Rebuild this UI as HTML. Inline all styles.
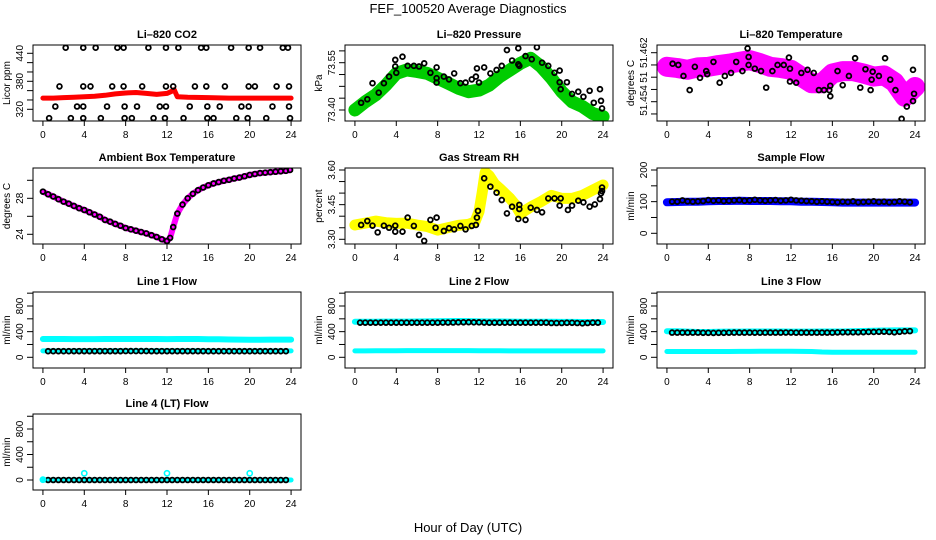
<!DOCTYPE html>
<html><head><meta charset="utf-8">
<style>
html,body{margin:0;padding:0;background:#fff;}
svg{display:block;font-family:"Liberation Sans",Arial,sans-serif;}
</style></head>
<body>
<svg id="chart" width="936" height="540" viewBox="0 0 936 540" xmlns="http://www.w3.org/2000/svg">
<text x="468" y="13" text-anchor="middle" font-size="13">FEF_100520  Average Diagnostics</text>
<text x="468" y="532" text-anchor="middle" font-size="13">Hour of Day (UTC)</text>
</svg>
<script>
// ---------- data ----------
const xTicks = [0,4,8,12,16,20,24];
const halfHours = [0.5,1,1.5,2,2.5,3,3.5,4,4.5,5,5.5,6,6.5,7,7.5,8,8.5,9,9.5,10,10.5,11,11.5,12,12.5,13,13.5,14,14.5,15,15.5,16,16.5,17,17.5,18,18.5,19,19.5,20,20.5,21,21.5,22,22.5,23,23.5];
const hourly = [0,1,2,3,4,5,6,7,8,9,10,11,12,13,14,15,16,17,18,19,20,21,22,23,24];

// CO2
const co2BandHours = [0,1,2,3,4,5,6,7,8,9,10,11,12,12.4,12.7,13,14,16,18,20,22,24];
const co2BandVals = [344,344,345,346,347,348,350,353,355,356,354,352,354,358,362,347,346,345,344,344,344,344];
const co2PtHours = [2.2,3.9,5.1,7.2,7.8,10.2,11.9,13.1,15.3,15.8,18.2,19.9,21.0,23.2,23.7,
 1.6,3.9,4.6,6.7,7.8,9.6,11.9,12.6,14.7,15.8,17.6,19.9,20.5,22.6,23.8,
 1.2,3.3,3.9,6.2,7.9,9.1,11.3,11.9,14.2,15.9,17.1,19.2,19.9,22.2,23.8,
 0.6,2.7,3.9,5.6,7.9,8.6,10.7,11.8,13.6,15.9,16.5,18.7,19.8,21.6,23.9];
const co2PtVals = [452,452,452,452,452,452,452,452,452,452,452,452,452,452,452,
 369,369,369,369,369,369,369,369,369,369,369,369,369,369,369,
 326,326,326,326,326,326,326,326,326,326,326,326,326,326,326,
 301,301,301,301,301,301,301,301,301,301,301,301,301,301,301];

// Pressure
const presBand = [73.400,73.426,73.448,73.479,73.516,73.527,73.522,73.516,73.501,73.485,73.469,73.458,73.463,73.479,73.506,73.527,73.548,73.564,73.538,73.501,73.458,73.426,73.411,73.389,73.379];
const presPtHours = [0.6,1.2,1.7,2.3,2.8,3.3,3.9,3.9,4.0,4.6,5.1,5.7,6.2,6.7,7.3,7.9,7.9,7.9,8.6,9.1,9.6,10.2,10.7,11.3,11.7,11.8,12.0,12.5,13.1,13.7,14.2,14.7,15.2,15.8,15.8,15.9,16.5,17.1,17.6,18.1,18.7,19.3,19.8,19.8,19.9,20.5,21.0,21.6,22.1,22.7,23.1,23.7,23.8,23.9];
const presPtVals = [73.423,73.434,73.485,73.455,73.485,73.506,73.559,73.538,73.518,73.569,73.540,73.540,73.538,73.548,73.518,73.535,73.501,73.487,73.506,73.497,73.516,73.485,73.487,73.497,73.506,73.532,73.487,73.535,73.516,73.527,73.540,73.590,73.557,73.596,73.545,73.540,73.571,73.561,73.599,73.550,73.540,73.518,73.525,73.488,73.466,73.488,73.451,73.458,73.442,73.461,73.423,73.466,73.429,73.405];

// Li-820 temperature
const tempBand = [51.4597,51.4595,51.4592,51.4596,51.4597,51.4600,51.4602,51.4605,51.4608,51.4603,51.4597,51.4595,51.4592,51.4581,51.4570,51.4570,51.4586,51.4590,51.4590,51.4586,51.4581,51.4583,51.4572,51.4548,51.4564];
const tempPtHours = [0.55,1.1,1.6,2.2,2.7,3.2,3.8,3.9,4.5,5.1,5.6,6.2,6.7,7.3,7.8,7.9,7.9,8.5,9.1,9.6,10.2,10.7,11.3,11.8,11.9,11.9,12.5,13.0,13.6,14.2,14.7,15.2,15.7,15.8,15.8,16.5,17.0,17.6,18.2,18.7,19.2,19.7,19.8,19.9,20.5,21.1,21.6,22.1,22.7,23.2,23.8,23.8,23.9];
const tempPtVals = [51.4602,51.4600,51.4582,51.4559,51.4597,51.4579,51.4590,51.4585,51.4605,51.4571,51.4582,51.4587,51.4605,51.4590,51.4627,51.4613,51.4600,51.4594,51.4590,51.4563,51.4590,51.4600,51.4600,51.4612,51.4594,51.4573,51.4571,51.4587,51.4592,51.4587,51.4559,51.4559,51.4559,51.4566,51.4549,51.4590,51.4567,51.4582,51.4611,51.4563,51.4593,51.4559,51.4576,51.4589,51.4582,51.4611,51.4576,51.4559,51.4512,51.4532,51.4592,51.4541,51.4553];

// Ambient box temperature
const ambHours = [0,0.5,1,1.5,2,2.5,3,3.5,4,4.5,5,5.5,6,6.5,7,7.5,8,8.5,9,9.5,10,10.5,11,11.5,12,12.3,12.6,13,13.5,14,14.5,15,15.5,16,16.5,17,17.5,18,18.5,19,19.5,20,20.5,21,21.5,22,22.5,23,23.5,23.9];
const ambVals = [28.74,28.45,28.2,27.9,27.63,27.4,27.15,26.9,26.7,26.45,26.2,25.95,25.6,25.4,25.15,24.95,24.7,24.55,24.4,24.25,24.1,23.9,23.7,23.45,23.25,23.6,24.8,26.3,27.3,28.0,28.5,28.9,29.2,29.45,29.65,29.8,29.95,30.05,30.2,30.3,30.45,30.6,30.7,30.8,30.85,30.9,30.95,31.0,31.05,31.15];

// Gas stream RH
const rhBandHours = [0,1,2,3,4,5,6,7,8,9,10,11,11.6,12,12.3,12.6,13,13.5,14,15,15.5,16,17,18,19,20,21,22,23,24];
const rhBandVals = [3.362,3.370,3.379,3.372,3.369,3.370,3.362,3.355,3.340,3.350,3.360,3.365,3.375,3.420,3.500,3.590,3.575,3.540,3.520,3.477,3.450,3.412,3.440,3.463,3.490,3.477,3.477,3.490,3.513,3.535];
const rhPtHours = [0.6,1.2,1.7,2.2,2.8,3.3,3.9,3.9,4.6,5.1,5.7,6.2,6.7,7.3,7.9,7.8,8.6,9.1,9.6,10.2,10.7,11.3,11.7,11.8,11.9,12.5,13.1,13.7,14.2,14.7,15.2,15.9,15.9,15.8,16.5,17.0,17.6,18.1,18.7,19.3,19.9,19.8,20.6,21.0,21.6,22.1,22.7,23.2,23.7,23.8,23.9,23.9];
const rhPtVals = [3.362,3.379,3.359,3.330,3.359,3.350,3.359,3.333,3.333,3.394,3.358,3.319,3.293,3.384,3.394,3.350,3.336,3.348,3.343,3.358,3.343,3.358,3.362,3.394,3.423,3.564,3.528,3.502,3.470,3.412,3.441,3.449,3.431,3.388,3.384,3.437,3.427,3.417,3.477,3.477,3.477,3.446,3.427,3.446,3.467,3.460,3.441,3.451,3.474,3.499,3.524,3.509];

// Sample flow
const sampleBand = [98,99,100,100,101,102,102,103,102,102,102,101,101,100,100,99,98,97,97,97,97,97,97,97,97];
const samplePts = [100,100,104,101,100,101,102,105,103,104,102,103,104,105,103,104,106,104,103,104,105,103,104,106,104,103,102,101,100,101,100,99,98,100,99,101,98,99,100,101,99,100,98,99,101,100,98];

// Line flows
const line1Upper = [285,285,285,284,284,284,285,285,285,285,285,285,284,285,285,285,283,280,278,276,275,275,276,276,276];
const line1Lower = [100,100,100,100,101,101,101,101,101,101,101,101,101,101,101,101,100,100,100,100,100,100,100,100,100];
const line1Pts = [95,95,95,95,95,96,96,96,96,96,96,96,96,96,96,97,97,97,97,97,96,96,96,96,96,96,96,96,96,96,96,95,95,95,95,95,95,95,95,95,95,95,95,95,95,95,95];
const line2Upper = [555,555,555,556,557,557,558,560,562,565,566,565,560,558,558,556,555,555,554,553,552,552,550,550,550];
const line2Lower = [100,100,101,102,103,104,105,105,105,105,105,104,103,102,101,100,100,100,100,100,100,100,100,100,100];
const line2Pts = [540,540,540,540,540,540,540,540,540,540,540,540,540,540,540,540,542,542,543,545,546,547,545,545,542,540,540,540,540,540,540,540,540,540,540,540,540,535,535,535,538,538,535,530,535,540,540];
const line3Upper = [405,405,400,395,395,398,400,400,402,402,402,402,400,400,400,402,402,402,405,410,415,418,420,420,420];
const line3Lower = [90,90,90,90,90,90,90,92,92,95,95,95,95,92,90,82,80,80,80,80,80,80,80,80,80];
const line3Pts = [385,385,385,385,385,385,382,382,380,382,382,384,385,385,385,385,384,384,385,385,385,385,386,386,384,385,385,385,385,385,385,385,388,390,390,390,390,392,395,395,398,400,395,390,398,405,408];
const line4Band = [0,0,0,0,0,0,0,0,0,0,0,0,0,0,0,0,0,0,0,0,0,0,0,0,0];
const line4Pts = [0,0,0,0,0,0,0,0,0,0,0,0,0,0,0,0,0,0,0,0,0,0,0,0,0,0,0,0,0,0,0,0,0,0,0,0,0,0,0,0,0,0,0,0,0,0,0];
const line4SpikeHours = [4,12,20,0];
const line4SpikeVals = [105,105,105,5];

// ---------- drawing ----------
const NS = 'http://www.w3.org/2000/svg';
const svg = document.getElementById('chart');
const colX = [33,345,657], rowY = [45,168,292,414], FW = 268, FH = 76;

function mk(tag, attrs, parent){
  const e = document.createElementNS(NS, tag);
  for (const k in attrs) e.setAttribute(k, attrs[k]);
  (parent||svg).appendChild(e);
  return e;
}
function makePanel(name, col, row, title, ytitle, yA, yB, tickVals, labels){
  const g = mk('g', {});
  
  
  const x0 = colX[col], y0 = rowY[row];
  const xs = h => x0 + (h + 0.96) * FW / 25.92;
  const ys = v => yA[1] + (v - yA[0]) * (yB[1] - yA[1]) / (yB[0] - yA[0]);
  const clipId = 'clip-' + name;
  const cp = mk('clipPath', {id: clipId}, g);
  mk('rect', {x: x0, y: y0, width: FW, height: FH}, cp);
  const plot = mk('g', {'clip-path': 'url(#' + clipId + ')'}, g);
  
  
  const t = mk('text', {x: x0 + FW/2, y: y0 - 7, 'text-anchor': 'middle', 'font-size': 11, 'font-weight': 'bold'}, g);
  
  
  t.textContent = title;
  const xa = mk('g', {}, g);
  
  
  xTicks.forEach(h => {
    mk('line', {x1: xs(h), x2: xs(h), y1: y0 + FH, y2: y0 + FH + 5, stroke: '#000', 'stroke-width': 1}, xa);
    const l = mk('text', {x: xs(h), y: y0 + FH + 17, 'text-anchor': 'middle', 'font-size': 10}, xa);
    
    
    l.textContent = h;
  });
  const ya = mk('g', {}, g);
  
  
  tickVals.forEach(v => {
    mk('line', {x1: x0 - 6, x2: x0, y1: ys(v), y2: ys(v), stroke: '#000', 'stroke-width': 1}, ya);
  });
  labels.forEach(([v, s]) => {
    const yy = ys(v), xx = x0 - 10;
    const l = mk('text', {x: xx, y: yy, 'text-anchor': 'middle', 'font-size': 10, transform: 'rotate(-90 ' + xx + ' ' + yy + ')'}, ya);
    
    
    l.textContent = s;
  });
  const ytx = x0 - 23, yty = y0 + FH/2;
  const yt = mk('text', {x: ytx, y: yty, 'text-anchor': 'middle', 'font-size': 10, transform: 'rotate(-90 ' + ytx + ' ' + yty + ')'}, g);
  
  
  yt.textContent = ytitle;
  const frame = mk('rect', {x: x0, y: y0, width: FW, height: FH, fill: 'none', stroke: '#000', 'stroke-width': 1}, g);
  
  
  return {plot, xs, ys};
}
function band(p, hours, vals, color, w, nm){
  const pts = hours.map((h, i) => p.xs(h).toFixed(1) + ',' + p.ys(vals[i]).toFixed(1)).join(' ');
  const e = mk('polyline', {points: pts, fill: 'none', stroke: color, 'stroke-width': w, 'stroke-linejoin': 'round', 'stroke-linecap': 'round'}, p.plot);
  
  
}
function points(p, hours, vals, color, nm, r, sw){
  hours.forEach((h, i) => {
    const c = mk('circle', {cx: p.xs(h), cy: p.ys(vals[i]), r: r || 2.4, fill: 'none', stroke: color, 'stroke-width': sw || 1.8}, p.plot);
    
    
  });
}

let p = makePanel('co2-panel', 0, 0, 'Li\u2013820 CO2', 'Licor ppm', [440, 53.3], [320, 109.3],
  [320,340,360,380,400,420,440], [[320,'320'],[380,'380'],[440,'440']]);
band(p, co2BandHours, co2BandVals, '#ff0000', 5, 'co2-series');
points(p, co2PtHours, co2PtVals, '#000', 'co2-point');

p = makePanel('pressure-panel', 1, 0, 'Li\u2013820 Pressure', 'kPa', [73.40, 110], [73.55, 62.7],
  [73.40,73.4375,73.475,73.5125,73.55,73.5875], [[73.40,'73.40'],[73.55,'73.55']]);
band(p, hourly, presBand, '#00cc00', 13, 'pressure-series');
points(p, presPtHours, presPtVals, '#000', 'pressure-point');

p = makePanel('li820-temp-panel', 2, 0, 'Li\u2013820 Temperature', 'degrees C', [51.462, 52.7], [51.454, 101.7],
  [51.462,51.460,51.458,51.456,51.454,51.452], [[51.462,'51.462'],[51.458,'51'],[51.4542,'51.454']]);
band(p, hourly, tempBand, '#ff00ff', 20, 'li820-temp-series');
points(p, tempPtHours, tempPtVals, '#000', 'li820-temp-point');

p = makePanel('ambient-temp-panel', 0, 1, 'Ambient Box Temperature', 'degrees C', [28, 198.3], [24, 234.3],
  [24,26,28,30], [[24,'24'],[28,'28']]);
band(p, ambHours, ambVals, '#ff00ff', 6, 'ambient-temp-series');
points(p, ambHours, ambVals, '#000', 'ambient-temp-point');

p = makePanel('gas-rh-panel', 1, 1, 'Gas Stream RH', 'percent', [3.60, 170], [3.30, 239.3],
  [3.30,3.35,3.40,3.45,3.50,3.55,3.60], [[3.30,'3.30'],[3.45,'3.45'],[3.60,'3.60']]);
band(p, rhBandHours, rhBandVals, '#ffff00', 11, 'gas-rh-series');
points(p, rhPtHours, rhPtVals, '#000', 'gas-rh-point');

p = makePanel('sample-flow-panel', 2, 1, 'Sample Flow', 'ml/min', [200, 170], [0, 233.3],
  [0,50,100,150,200], [[0,'0'],[100,'100'],[200,'200']]);
band(p, hourly, sampleBand, '#0000ff', 8, 'sample-flow-series');
points(p, halfHours, samplePts, '#000', 'sample-flow-point');

const flowTicks = [0,200,400,600,800,1000], flowLabels = [[0,'0'],[400,'400'],[800,'800']];
p = makePanel('line1-flow-panel', 0, 2, 'Line 1 Flow', 'ml/min', [800, 306], [0, 357.3], flowTicks, flowLabels);
band(p, hourly, line1Upper, '#00ffff', 6, 'line1-upper-series');
band(p, hourly, line1Lower, '#00ffff', 5, 'line1-lower-series');
points(p, halfHours, line1Pts, '#000', 'line1-point');
p = makePanel('line2-flow-panel', 1, 2, 'Line 2 Flow', 'ml/min', [800, 306], [0, 357.3], flowTicks, flowLabels);
band(p, hourly, line2Upper, '#00ffff', 6, 'line2-upper-series');
band(p, hourly, line2Lower, '#00ffff', 5, 'line2-lower-series');
points(p, halfHours, line2Pts, '#000', 'line2-point');
p = makePanel('line3-flow-panel', 2, 2, 'Line 3 Flow', 'ml/min', [800, 306], [0, 357.3], flowTicks, flowLabels);
band(p, hourly, line3Upper, '#00ffff', 6, 'line3-upper-series');
band(p, hourly, line3Lower, '#00ffff', 5, 'line3-lower-series');
points(p, halfHours, line3Pts, '#000', 'line3-point');
p = makePanel('line4-flow-panel', 0, 3, 'Line 4 (LT) Flow', 'ml/min', [800, 429], [0, 480], flowTicks, flowLabels);
band(p, hourly, line4Band, '#00ffff', 5, 'line4-series');
points(p, halfHours, line4Pts, '#000', 'line4-point');
points(p, line4SpikeHours, line4SpikeVals, '#00ffff', 'line4-spike-point', 2.6, 1.6);
</script>
</body></html>
